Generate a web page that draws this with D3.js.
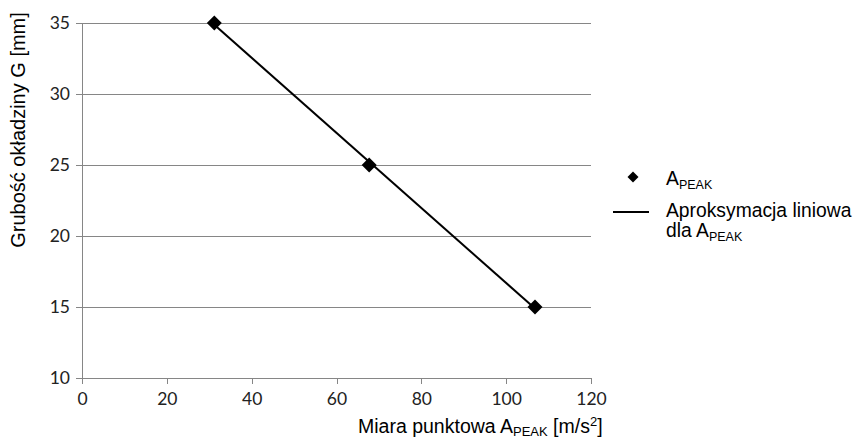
<!DOCTYPE html>
<html>
<head>
<meta charset="utf-8">
<script src="https://cdn.jsdelivr.net/npm/d3@7/dist/d3.min.js"></script>
<style>
  html, body { margin: 0; padding: 0; background: #fff; }
  svg { display: block; }
</style>
</head>
<body>
<svg id="chart" width="859" height="439"></svg>
<script>
// Measurements: peak acceleration vs. lining thickness
const peakValues = [31.2, 67.7, 106.8];     // A_PEAK [m/s^2]
const thickness  = [35, 25, 15];            // G [mm]
const xTicks = [0, 20, 40, 60, 80, 100, 120];
const yTicks = [10, 15, 20, 25, 30, 35];

const svg = d3.select("#chart");
const plot = { left: 82, right: 591, top: 23, bottom: 378 };

const x = d3.scaleLinear().domain([0, 120]).range([plot.left, plot.right]);
const y = d3.scaleLinear().domain([10, 35]).range([plot.bottom, plot.top]);

const gridColor = "#868686";
const tickFont = "Lato, 'Open Sans', sans-serif";
const textFont = "'Liberation Sans', Arial, sans-serif";

// Horizontal gridlines
svg.append("g")
  .selectAll("line")
  .data(yTicks.filter(d => d > 10))
  .join("line")
  .attr("x1", plot.left).attr("x2", plot.right)
  .attr("y1", d => y(d)).attr("y2", d => y(d))
  .attr("stroke", gridColor).attr("stroke-width", 1)
  .attr("shape-rendering", "crispEdges");

// Y axis
const yAxis = svg.append("g")
  .attr("transform", `translate(${plot.left},0)`)
  .call(d3.axisLeft(y).tickValues(yTicks).tickSize(6).tickPadding(6).tickFormat(d3.format("d")));
yAxis.select(".domain").attr("stroke", gridColor).attr("shape-rendering", "crispEdges");
yAxis.selectAll(".tick line").attr("stroke", gridColor).attr("shape-rendering", "crispEdges");
yAxis.selectAll(".tick text")
  .attr("font-family", tickFont).attr("font-size", 17.5).attr("fill", "#222");

// X axis
const xAxis = svg.append("g")
  .attr("transform", `translate(0,${plot.bottom})`)
  .call(d3.axisBottom(x).tickValues(xTicks).tickSize(6).tickPadding(9).tickFormat(d3.format("d")));
xAxis.select(".domain").attr("stroke", gridColor).attr("shape-rendering", "crispEdges");
xAxis.selectAll(".tick line").attr("stroke", gridColor).attr("shape-rendering", "crispEdges");
xAxis.selectAll(".tick text")
  .attr("font-family", tickFont).attr("font-size", 17.5).attr("fill", "#222");
// extend x baseline left under the y tick
xAxis.append("line")
  .attr("x1", plot.left - 6).attr("x2", plot.left)
  .attr("stroke", gridColor).attr("shape-rendering", "crispEdges");

// Linear trendline (least squares) over the data range
const n = peakValues.length;
const mx = d3.mean(peakValues), my = d3.mean(thickness);
let sxy = 0, sxx = 0;
for (let i = 0; i < n; i++) {
  sxy += (peakValues[i] - mx) * (thickness[i] - my);
  sxx += (peakValues[i] - mx) ** 2;
}
const slope = sxy / sxx, intercept = my - slope * mx;
const [xmin, xmax] = d3.extent(peakValues);
svg.append("line")
  .attr("x1", x(xmin)).attr("y1", y(slope * xmin + intercept))
  .attr("x2", x(xmax)).attr("y2", y(slope * xmax + intercept))
  .attr("stroke", "#000").attr("stroke-width", 2);

// Data points (diamonds)
const diamond = r => `M0,${-r}L${r},0L0,${r}L${-r},0Z`;
svg.append("g")
  .selectAll("path")
  .data(peakValues.map((v, i) => [v, thickness[i]]))
  .join("path")
  .attr("transform", d => `translate(${x(d[0])},${y(d[1])})`)
  .attr("d", diamond(7.5))
  .attr("fill", "#000");

// Axis titles
svg.append("text")
  .attr("transform", "translate(25,130) rotate(-90)")
  .attr("text-anchor", "middle")
  .attr("font-family", textFont).attr("font-size", 20).attr("fill", "#000")
  .text("Grubość okładziny G [mm]");

const xTitle = svg.append("text")
  .attr("x", 358).attr("y", 433)
  .attr("font-family", textFont).attr("font-size", 19.5).attr("fill", "#000");
xTitle.append("tspan").text("Miara punktowa A");
xTitle.append("tspan").attr("font-size", 13).attr("dy", 3).text("PEAK");
xTitle.append("tspan").attr("dy", -3).text(" [m/s");
xTitle.append("tspan").attr("font-size", 13).attr("dy", -7).text("2");
xTitle.append("tspan").attr("dy", 7).text("]");

// Legend
const lg = svg.append("g").attr("font-family", textFont).attr("fill", "#000");
lg.append("path").attr("transform", "translate(633,177)").attr("d", diamond(5.5)).attr("fill", "#000");
const l1 = lg.append("text").attr("x", 666).attr("y", 185).attr("font-size", 19.3);
l1.append("tspan").text("A");
l1.append("tspan").attr("font-size", 12.5).attr("dy", 4).text("PEAK");

lg.append("line").attr("x1", 613).attr("x2", 649).attr("y1", 212).attr("y2", 212)
  .attr("stroke", "#000").attr("stroke-width", 2);
lg.append("text").attr("x", 666).attr("y", 217).attr("font-size", 19.3).text("Aproksymacja liniowa");
const l3 = lg.append("text").attr("x", 666).attr("y", 237).attr("font-size", 19.3);
l3.append("tspan").text("dla A");
l3.append("tspan").attr("font-size", 12.5).attr("dy", 4).text("PEAK");
</script>
</body>
</html>
